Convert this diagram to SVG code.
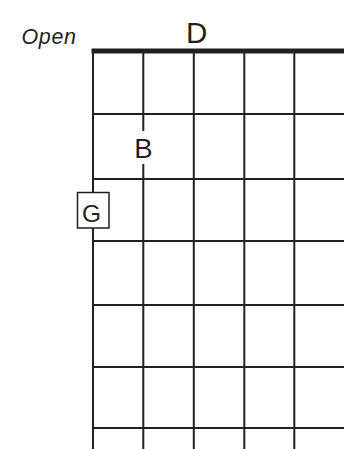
<svg xmlns="http://www.w3.org/2000/svg" width="344" height="449" viewBox="0 0 344 449">
  <style>
    .str { stroke: #231f20; stroke-width: 2; fill: none; }
    .fret { stroke: #231f20; stroke-width: 2; fill: none; }
    .nut { stroke: #231f20; stroke-width: 5; fill: none; }
    .lbl { font-family: "Liberation Sans", Arial, sans-serif; fill: #231f20; text-anchor: middle; }
    .box { fill: #ffffff; stroke: #231f20; stroke-width: 1.5; }
  </style>
  <rect width="344" height="449" fill="#ffffff"/>
  <g id="connectors">
    <g id="strings">
      <line class="str" x1="93" y1="51" x2="93" y2="449"/>
      <line class="str" x1="143.3" y1="51" x2="143.3" y2="449"/>
      <line class="str" x1="193.8" y1="51" x2="193.8" y2="449"/>
      <line class="str" x1="244.3" y1="51" x2="244.3" y2="449"/>
      <line class="str" x1="294.3" y1="51" x2="294.3" y2="449"/>
    </g>
    <g id="frets">
      <line class="fret" x1="92" y1="114" x2="344" y2="114"/>
      <line class="fret" x1="92" y1="179" x2="344" y2="179"/>
      <line class="fret" x1="92" y1="241" x2="344" y2="241"/>
      <line class="fret" x1="92" y1="305" x2="344" y2="305"/>
      <line class="fret" x1="92" y1="367" x2="344" y2="367"/>
      <line class="fret" x1="92" y1="428" x2="344" y2="428"/>
    </g>
    <line id="nut" class="nut" x1="91.5" y1="51" x2="344" y2="51"/>
  </g>
  <g id="open-label">
    <text class="lbl" x="49" y="44.3" font-size="21.5" font-style="italic" letter-spacing="0.6">Open</text>
  </g>
  <g id="node-D">
    <text class="lbl" x="196.7" y="43.3" font-size="29.5">D</text>
  </g>
  <g id="node-B">
    <rect x="132" y="131" width="23" height="33" fill="#ffffff"/>
    <text class="lbl" x="143.4" y="158.3" font-size="27.5">B</text>
  </g>
  <g id="node-G">
    <rect class="box" x="77.5" y="192.5" width="31.5" height="35.5"/>
    <text class="lbl" x="91.5" y="222.3" font-size="24.5">G</text>
  </g>
</svg>
